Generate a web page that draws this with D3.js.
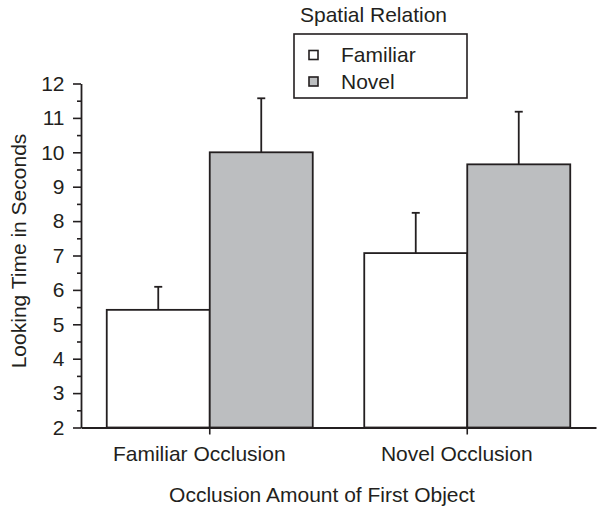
<!DOCTYPE html>
<html>
<head>
<meta charset="utf-8">
<script src="https://cdn.jsdelivr.net/npm/d3@7"></script>
<style>
  html, body { margin: 0; padding: 0; background: #fff; }
  svg { display: block; }
  text { font-family: "Liberation Sans", Arial, Helvetica, sans-serif; fill: #231f20; }
</style>
</head>
<body>
<svg id="chart" width="601" height="508"></svg>
<script>
// ---- data ----
const categories = ["Familiar Occlusion", "Novel Occlusion"];
const series = ["Familiar", "Novel"];
const familiarMeans = [5.42, 7.07];
const novelMeans = [10.0, 9.65];
const familiarErrors = [0.67, 1.17];
const novelErrors = [1.57, 1.53];
const yTicks = [2, 3, 4, 5, 6, 7, 8, 9, 10, 11, 12];
const yMinorTicks = [2.5, 3.5, 4.5, 5.5, 6.5, 7.5, 8.5, 9.5, 10.5, 11.5];
const legendTitle = "Spatial Relation";
const xTitle = "Occlusion Amount of First Object";
const yTitle = "Looking Time in Seconds";

// ---- styles ----
const ink = "#231f20";
const fills = { Familiar: "#ffffff", Novel: "#bcbec0" };

const svg = d3.select("#chart");

const means = { Familiar: familiarMeans, Novel: novelMeans };
const errs = { Familiar: familiarErrors, Novel: novelErrors };
const rows = [];
categories.forEach((c, i) => series.forEach(s => rows.push({ cat: c, s, v: means[s][i], e: errs[s][i] })));

const x0 = d3.scaleBand().domain(categories).range([81, 596]).paddingInner(0.2).paddingOuter(0.1);
const x1 = d3.scaleBand().domain(series).range([0, x0.bandwidth()]).padding(0);
const y = d3.scaleLinear().domain([2, 12]).range([427.5, 83.5]);

// bars
const g = svg.append("g");
g.selectAll("rect.bar").data(rows).join("rect")
  .attr("class", "bar")
  .attr("x", d => x0(d.cat) + x1(d.s))
  .attr("y", d => y(d.v))
  .attr("width", x1.bandwidth())
  .attr("height", d => y(2) - y(d.v))
  .attr("fill", d => fills[d.s])
  .attr("stroke", ink)
  .attr("stroke-width", 1.8);

// error bars (upward only)
const eg = g.selectAll("g.err").data(rows).join("g").attr("class", "err")
  .attr("transform", d => `translate(${x0(d.cat) + x1(d.s) + x1.bandwidth() / 2},0)`);
eg.append("line")
  .attr("x1", 0).attr("x2", 0)
  .attr("y1", d => y(d.v)).attr("y2", d => y(d.v + d.e))
  .attr("stroke", ink).attr("stroke-width", 1.8);
eg.append("line")
  .attr("x1", -4).attr("x2", 4)
  .attr("y1", d => y(d.v + d.e)).attr("y2", d => y(d.v + d.e))
  .attr("stroke", ink).attr("stroke-width", 1.8);

// y axis
const yAxis = svg.append("g").attr("transform", "translate(81,0)")
  .call(d3.axisLeft(y).tickValues(yTicks).tickSize(8).tickPadding(8.5).tickSizeOuter(0));
yAxis.select(".domain").attr("stroke", ink).attr("stroke-width", 1.8);
yAxis.selectAll(".tick line").attr("stroke", ink).attr("stroke-width", 1.6);
yAxis.selectAll(".tick text").attr("font-size", 21).attr("fill", ink)
  .attr("font-family", "'Liberation Sans', Arial, sans-serif");

const yMinor = svg.append("g").attr("transform", "translate(81,0)")
  .call(d3.axisLeft(y).tickValues(yMinorTicks).tickSize(4).tickFormat(""));
yMinor.select(".domain").remove();
yMinor.selectAll(".tick line").attr("stroke", ink).attr("stroke-width", 1.6);

// x axis
const xAxis = svg.append("g").attr("transform", `translate(0,${y(2)})`)
  .call(d3.axisBottom(x0).tickSize(7).tickPadding(12).tickSizeOuter(0));
xAxis.select(".domain").attr("stroke", ink).attr("stroke-width", 1.8);
xAxis.selectAll(".tick line").attr("stroke", ink).attr("stroke-width", 1.6);
xAxis.selectAll(".tick text").attr("font-size", 21).attr("fill", ink).attr("dx", -10.5)
  .attr("font-family", "'Liberation Sans', Arial, sans-serif");

// axis titles
svg.append("text")
  .attr("x", 322).attr("y", 501.5)
  .attr("text-anchor", "middle").attr("font-size", 21)
  .text(xTitle);
svg.append("text")
  .attr("transform", "translate(25.5,251) rotate(-90)")
  .attr("text-anchor", "middle").attr("font-size", 21)
  .text(yTitle);

// legend
svg.append("text")
  .attr("x", 373.5).attr("y", 22)
  .attr("text-anchor", "middle").attr("font-size", 21)
  .text(legendTitle);
svg.append("rect")
  .attr("x", 294).attr("y", 34).attr("width", 173).attr("height", 64)
  .attr("fill", "none").attr("stroke", ink).attr("stroke-width", 1.6);
const lg = svg.selectAll("g.leg").data(series).join("g").attr("class", "leg")
  .attr("transform", (d, i) => `translate(0,${55 + i * 26.5})`);
lg.append("rect")
  .attr("x", 309).attr("y", -4.5).attr("width", 9).attr("height", 9)
  .attr("fill", d => fills[d]).attr("stroke", ink).attr("stroke-width", 1.6);
lg.append("text")
  .attr("x", 341).attr("y", 7)
  .attr("font-size", 21)
  .text(d => d);
</script>
</body>
</html>
